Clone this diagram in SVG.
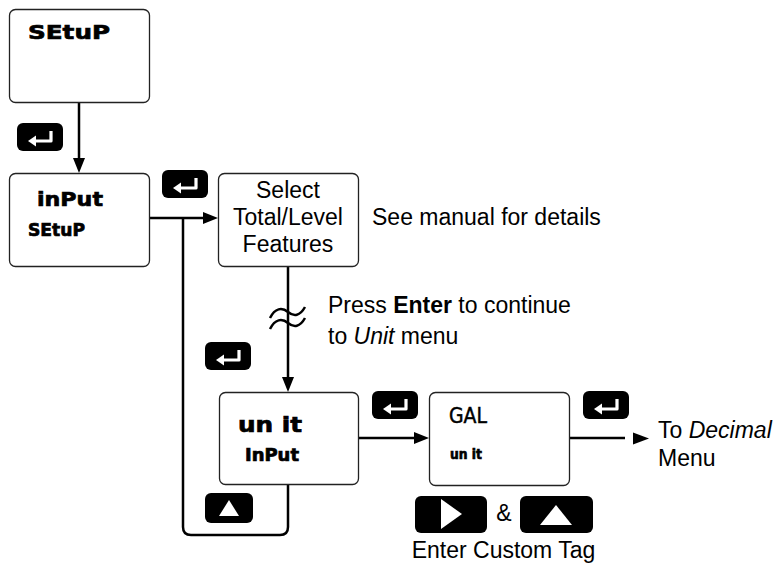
<svg xmlns="http://www.w3.org/2000/svg" xmlns:xlink="http://www.w3.org/1999/xlink" width="779" height="563" viewBox="0 0 779 563">
<style>
.box{fill:#fff;stroke:#222;stroke-width:1.3}
.lcd{font-family:"DejaVu Sans",sans-serif;font-weight:bold;fill:#000;stroke:#000;stroke-width:0.7}
.lcdthin{font-family:"DejaVu Sans",sans-serif;font-weight:normal;fill:#000;stroke:#000;stroke-width:0.5}
.t{font-family:"Liberation Sans",Arial,sans-serif;font-size:23px;fill:#000}
.conn{stroke:#000;stroke-width:2.5;fill:none}
.btn{fill:#000}
.ico{fill:#fff}
</style>
<defs>
<marker id="ah" markerUnits="userSpaceOnUse" markerWidth="15" markerHeight="12" refX="7" refY="6" orient="auto">
<path d="M0,0 L15,6 L0,12 z" fill="#000"/>
</marker>
<symbol id="enter" viewBox="0 0 46 28" width="46" height="28">
<rect x="0" y="0" width="46" height="28" rx="6" class="btn"/>
<path d="M18 18 H34 V8" fill="none" stroke="#fff" stroke-width="3.2" stroke-linejoin="round"/>
<polygon points="11,18 19,12.5 19,23.5" class="ico"/>
</symbol>
</defs>

<g id="connectors">
<line class="conn" x1="79" y1="102" x2="79" y2="165" marker-end="url(#ah)"/>
<line class="conn" x1="149" y1="218" x2="210" y2="218" marker-end="url(#ah)"/>
<path class="conn" d="M183 218 V527 Q183 535 191 535 H280 Q288 535 288 527 V484"/>
<line class="conn" x1="288" y1="266" x2="288" y2="384" marker-end="url(#ah)"/>
<path class="conn" d="M270 318 C275 308 282 307 288 312 C294 317 300 316 305 307"/>
<path class="conn" d="M270 329 C275 319 282 318 288 323 C294 328 300 327 305 318"/>
<line class="conn" x1="358" y1="438" x2="421" y2="438" marker-end="url(#ah)"/>
<line class="conn" x1="569" y1="438" x2="625" y2="438"/>
<polygon points="633,432.5 649,438.5 633,444.5" fill="#000"/>
</g>

<g id="node-setup">
<rect class="box" x="9.5" y="9.5" width="140" height="93" rx="6"/>
<text class="lcd" x="28" y="39" font-size="20" textLength="82" lengthAdjust="spacingAndGlyphs">SEtuP</text>
</g>

<g id="node-input-setup">
<rect class="box" x="9.5" y="173.5" width="140" height="93" rx="6"/>
<text class="lcd" x="37" y="206" font-size="20" textLength="66" lengthAdjust="spacingAndGlyphs">inPut</text>
<text class="lcd" x="28" y="236" font-size="17" textLength="57" lengthAdjust="spacingAndGlyphs">SEtuP</text>
</g>

<g id="node-select">
<rect class="box" x="218.5" y="173.5" width="140" height="93" rx="6"/>
<text class="t" x="288" y="198" text-anchor="middle">Select</text>
<text class="t" x="288" y="225" text-anchor="middle">Total/Level</text>
<text class="t" x="288" y="252" text-anchor="middle">Features</text>
</g>

<g id="node-unit">
<rect class="box" x="219.5" y="392.5" width="139" height="92" rx="6"/>
<text class="lcd" x="238" y="432" font-size="21" textLength="64" lengthAdjust="spacingAndGlyphs">un it</text>
<text class="lcd" x="245" y="461" font-size="17" textLength="54" lengthAdjust="spacingAndGlyphs">InPut</text>
</g>

<g id="node-gal">
<rect class="box" x="429.5" y="392.5" width="140" height="93" rx="6"/>
<text class="lcdthin" x="449" y="423" font-size="21" textLength="38" lengthAdjust="spacingAndGlyphs">GAL</text>
<text class="lcd" x="450" y="459" font-size="14" textLength="32" lengthAdjust="spacingAndGlyphs">un it</text>
</g>

<g id="buttons">
<use xlink:href="#enter" x="17" y="123"/>
<use xlink:href="#enter" x="162" y="170"/>
<use xlink:href="#enter" x="205" y="342"/>
<use xlink:href="#enter" x="372" y="391"/>
<use xlink:href="#enter" x="583" y="391"/>
<g id="btn-up-small">
<rect class="btn" x="205" y="493" width="48" height="30" rx="6"/>
<polygon class="ico" points="219,516 239,516 229,500"/>
</g>
<g id="btn-right">
<rect class="btn" x="415" y="496" width="72" height="37" rx="6"/>
<polygon class="ico" points="441,499 462,514 441,529"/>
</g>
<g id="btn-up">
<rect class="btn" x="520" y="496" width="73" height="37" rx="6"/>
<polygon class="ico" points="540,525 572,525 556,505"/>
</g>
</g>

<g id="labels">
<text class="t" x="372" y="225">See manual for details</text>
<text class="t" x="328" y="313">Press <tspan font-weight="bold">Enter</tspan> to continue</text>
<text class="t" x="328" y="344">to <tspan font-style="italic">Unit</tspan> menu</text>
<text class="t" x="658" y="438">To <tspan font-style="italic">Decimal</tspan></text>
<text class="t" x="658" y="466">Menu</text>
<text class="t" x="504" y="521" text-anchor="middle">&amp;</text>
<text class="t" x="503.5" y="558" text-anchor="middle">Enter Custom Tag</text>
</g>
</svg>
